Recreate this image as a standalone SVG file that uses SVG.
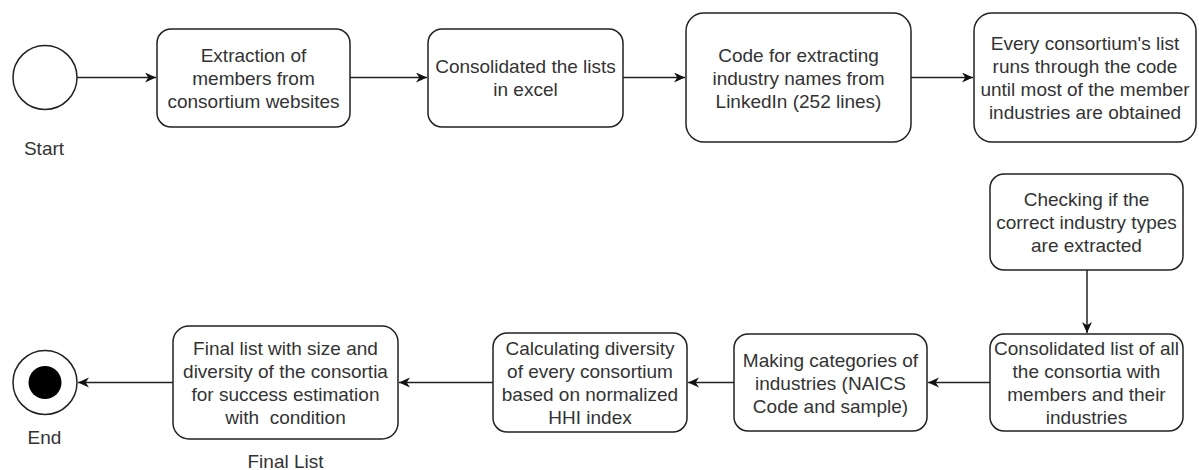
<svg xmlns="http://www.w3.org/2000/svg" width="1199" height="470" viewBox="0 0 1199 470">
<style>
.box{fill:#fff;stroke:#222;stroke-width:1.5}
.circ{fill:#fff;stroke:#222;stroke-width:1.5}
text{font-family:"Liberation Sans",Arial,sans-serif;font-size:19px;fill:#333;text-anchor:middle}
.pre{white-space:pre}
.edge{fill:none;stroke:#222;stroke-width:1.5}
</style>
<defs>
<marker id="arr" markerWidth="12" markerHeight="11" refX="11" refY="5" orient="auto" markerUnits="userSpaceOnUse">
<path d="M0,0 L11,5 L0,10 L3.3,5 z" fill="#111"/>
</marker>
</defs>
<rect width="1199" height="470" fill="#fff"/>
<g id="connectors">
<path class="edge" d="M77,77.5 L156,77.5" marker-end="url(#arr)"/>
<path class="edge" d="M350,77.5 L427,77.5" marker-end="url(#arr)"/>
<path class="edge" d="M623,77.5 L685,77.5" marker-end="url(#arr)"/>
<path class="edge" d="M911,77.5 L973,77.5" marker-end="url(#arr)"/>
<path class="edge" d="M1087,270 L1087,333" marker-end="url(#arr)"/>
<path class="edge" d="M990,382.5 L928,382.5" marker-end="url(#arr)"/>
<path class="edge" d="M734,382.5 L688,382.5" marker-end="url(#arr)"/>
<path class="edge" d="M493,382.5 L399,382.5" marker-end="url(#arr)"/>
<path class="edge" d="M173,382.5 L78,382.5" marker-end="url(#arr)"/>
</g>
<g id="start">
<circle class="circ" cx="45" cy="77.5" r="32"/>
<text x="44" y="155">Start</text>
</g>
<g id="extraction">
<rect class="box" x="157" y="29" width="193" height="98" rx="14"/>
<text x="253.5" y="62">Extraction of</text>
<text x="253.5" y="85">members from</text>
<text x="253.5" y="108">consortium websites</text>
</g>
<g id="consolidated-lists">
<rect class="box" x="428" y="29" width="195" height="98" rx="14"/>
<text x="525.5" y="73">Consolidated the lists</text>
<text x="525.5" y="96">in excel</text>
</g>
<g id="code">
<rect class="box" x="686" y="13" width="225" height="129" rx="18"/>
<text x="798.5" y="62">Code for extracting</text>
<text x="798.5" y="85">industry names from</text>
<text x="798.5" y="108">LinkedIn (252 lines)</text>
</g>
<g id="every">
<rect class="box" x="974" y="13" width="222" height="129" rx="18"/>
<text x="1085" y="50">Every consortium's list</text>
<text x="1085" y="73">runs through the code</text>
<text x="1085" y="96">until most of the member</text>
<text x="1085" y="119">industries are obtained</text>
</g>
<g id="checking">
<rect class="box" x="990" y="174" width="193" height="96" rx="14"/>
<text x="1086.5" y="206">Checking if the</text>
<text x="1086.5" y="229">correct industry types</text>
<text x="1086.5" y="252">are extracted</text>
</g>
<g id="consolidated-all">
<rect class="box" x="990" y="334" width="193" height="97" rx="14"/>
<text x="1086.5" y="355">Consolidated list of all</text>
<text x="1086.5" y="378">the consortia with</text>
<text x="1086.5" y="401">members and their</text>
<text x="1086.5" y="424">industries</text>
</g>
<g id="categories">
<rect class="box" x="734" y="334" width="193" height="97" rx="14"/>
<text x="830.5" y="367">Making categories of</text>
<text x="830.5" y="390">industries (NAICS</text>
<text x="830.5" y="413">Code and sample)</text>
</g>
<g id="diversity">
<rect class="box" x="493" y="333" width="194" height="99" rx="14"/>
<text x="590" y="355">Calculating diversity</text>
<text x="590" y="378">of every consortium</text>
<text x="590" y="401">based on normalized</text>
<text x="590" y="424">HHI index</text>
</g>
<g id="final">
<rect class="box" x="173" y="326" width="225" height="113" rx="16"/>
<text x="285.5" y="355">Final list with size and</text>
<text x="285.5" y="378">diversity of the consortia</text>
<text x="285.5" y="401">for success estimation</text>
<text class="pre" x="285.5" y="424">with  condition</text>
<text x="285.5" y="468">Final List</text>
</g>
<g id="end">
<circle class="circ" cx="45" cy="382.5" r="32"/>
<circle cx="45" cy="382.5" r="16.5" fill="#000"/>
<text x="44.5" y="444">End</text>
</g>
</svg>
